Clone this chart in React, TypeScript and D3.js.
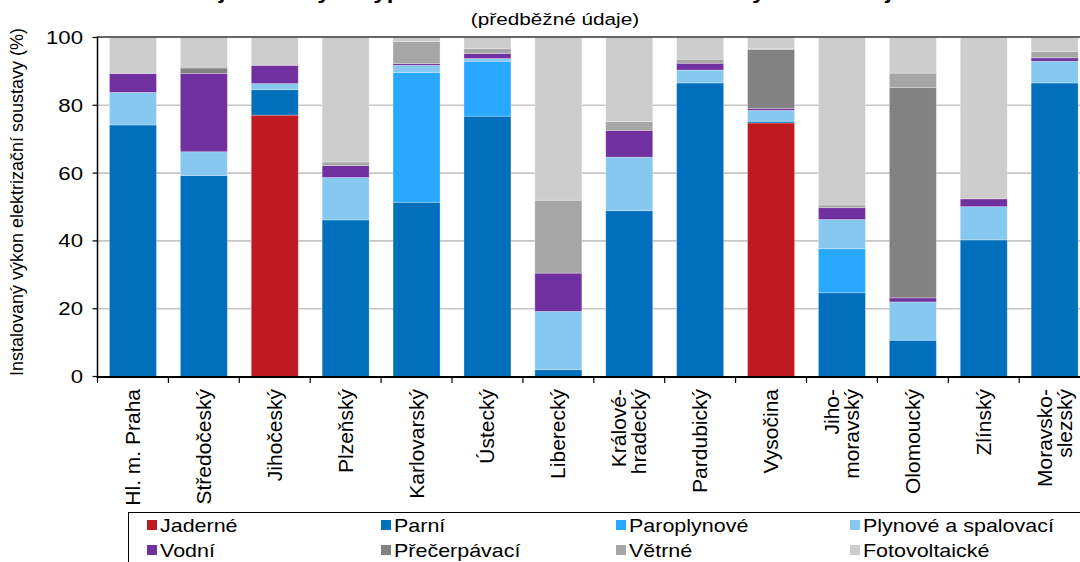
import React from "react";
import * as d3 from "d3";

const regions: string[][] = [
  ["Hl. m. Praha"],
  ["Středočeský"],
  ["Jihočeský"],
  ["Plzeňský"],
  ["Karlovarský"],
  ["Ústecký"],
  ["Liberecký"],
  ["Králové-", "hradecký"],
  ["Pardubický"],
  ["Vysočina"],
  ["Jiho-", "moravský"],
  ["Olomoucký"],
  ["Zlínský"],
  ["Moravsko-", "slezský"],
];

const seriesNames = [
  "Jaderné",
  "Parní",
  "Paroplynové",
  "Plynové a spalovací",
  "Vodní",
  "Přečerpávací",
  "Větrné",
  "Fotovoltaické",
];

const seriesColors = [
  "#BE1A20",
  "#0070BD",
  "#29A8FF",
  "#86C8F0",
  "#7030A0",
  "#828282",
  "#A6A6A6",
  "#CDCDCD",
];

// values per region (%), order follows seriesNames
const jaderne = [0, 0, 77.1, 0, 0, 0, 0, 0, 0, 74.8, 0, 0, 0, 0];
const parni = [74.2, 59.3, 7.5, 46.2, 51.4, 76.8, 2.0, 48.9, 86.6, 0.5, 24.7, 10.7, 40.3, 86.6];
const paroplynove = [0, 0, 0, 0, 38.3, 16.2, 0, 0, 0, 0, 13.0, 0, 0, 0];
const plynove = [9.6, 7.0, 1.8, 12.5, 2.1, 0.8, 17.2, 15.8, 3.8, 3.2, 8.6, 11.3, 9.8, 6.4];
const vodni = [5.6, 23.1, 5.4, 3.5, 0.5, 1.5, 11.3, 7.9, 2.0, 0.6, 3.5, 1.2, 2.3, 1.0];
const precerpavaci = [0, 1.6, 0, 0, 0, 0, 0, 0, 0, 17.4, 0, 62.1, 0, 0];
const vetrne = [0, 0.3, 0, 1.1, 6.5, 1.5, 21.5, 2.6, 1.2, 0.3, 0.8, 4.2, 0, 1.9];
const fotovoltaicke = [10.6, 8.7, 8.2, 36.7, 1.2, 3.2, 48.0, 24.8, 6.4, 3.3, 49.4, 10.5, 47.6, 4.1];

const yTicks = [0, 20, 40, 60, 80, 100];

const titleText = "Podíl jednotlivých typů elektráren na instalovaném výkonu v krajích";
const subtitleText = "(předběžné údaje)";
const yTitle = "Instalovaný výkon elektrizační soustavy (%)";

const W = 1080;
const H = 562;
const FONT = "'Liberation Sans', Arial, Helvetica, sans-serif";

function HText(props: {
  x: number;
  y: number;
  sx: number;
  size: number;
  anchor?: string;
  weight?: string;
  children: React.ReactNode;
}) {
  return (
    <g transform={`translate(${props.x},${props.y}) scale(${props.sx},1)`}>
      <text
        x={0}
        y={0}
        fontSize={props.size}
        textAnchor={props.anchor || "start"}
        fontWeight={props.weight || "normal"}
        fill="#000"
      >
        {props.children}
      </text>
    </g>
  );
}

export default function App() {
  const seriesValues = [jaderne, parni, paroplynove, plynove, vodni, precerpavaci, vetrne, fotovoltaicke];
  const keys = seriesNames;
  const rows = regions.map((r, i) => {
    const o: any = { region: r.join("") };
    keys.forEach((k, j) => (o[k] = seriesValues[j][i]));
    return o;
  });
  const stacked = d3.stack<any>().keys(keys)(rows);

  const left = 97.5;
  const step = 70.9;
  const x = d3
    .scaleBand<string>()
    .domain(rows.map((r) => r.region))
    .range([left, left + step * regions.length])
    .paddingInner(0.337)
    .paddingOuter(0.337 / 2);
  const y = d3.scaleLinear().domain([0, 100]).range([376.5, 37.5]);

  const bandStarts = rows.map((r) => (x(r.region) as number) - x.step() * 0.337 / 2);

  const legendCols = [147, 381, 616, 850];
  const legendRows = [525, 550];

  return (
    <svg width={W} height={H} style={{ display: "block", position: "absolute", left: 0, top: 0 }} fontFamily={FONT}>
      <rect x={0} y={0} width={W} height={H} fill="#fff" />
      {/* title (cut off at top as in reference) */}
      <HText x={540} y={-1.5} sx={1.2} size={20} anchor="middle" weight="bold">
        {titleText}
      </HText>
      <HText x={555} y={25} sx={1.22} size={17} anchor="middle">
        {subtitleText}
      </HText>

      {/* gridlines */}
      {yTicks
        .filter((t) => t > 0 && t < 100)
        .map((t) => (
          <line key={t} x1={left} x2={W} y1={y(t)} y2={y(t)} stroke="#c6c6c6" strokeWidth={1.6} />
        ))}

      {/* bars */}
      {stacked.map((s, si) => (
        <g key={s.key} fill={seriesColors[si]}>
          {s.map((d, i) => {
            const h = y(d[0]) - y(d[1]);
            if (h <= 0) return null;
            return (
              <rect
                key={i}
                x={x(rows[i].region)}
                y={y(d[1])}
                width={x.bandwidth()}
                height={h}
                stroke="rgba(255,255,255,0.35)"
                strokeWidth={0.8}
              />
            );
          })}
        </g>
      ))}

      {/* top frame line */}
      <line x1={left} x2={W} y1={37} y2={37} stroke="#333" strokeWidth={1.6} />

      {/* y axis */}
      <line x1={left} x2={left} y1={36.5} y2={377} stroke="#000" strokeWidth={1.5} />
      {yTicks.map((t) => (
        <g key={t}>
          <line x1={left - 5} x2={left} y1={y(t)} y2={y(t)} stroke="#000" strokeWidth={1.2} />
          <HText x={83} y={y(t) + 6.5} sx={1.2} size={18.5} anchor="end">
            {t}
          </HText>
        </g>
      ))}
      <text
        transform={`translate(23, ${(y(0) + y(100)) / 2 - 5}) rotate(-90)`}
        textAnchor="middle"
        fontSize={18}
        fill="#000"
      >
        {yTitle}
      </text>

      {/* x axis */}
      <line x1={left - 1} x2={W} y1={377} y2={377} stroke="#000" strokeWidth={2} />
      {bandStarts.map((bx, i) => (
        <line key={i} x1={bx} x2={bx} y1={377} y2={383} stroke="#000" strokeWidth={1.2} />
      ))}
      {regions.map((lines, i) => {
        const cx = (x(rows[i].region) as number) + x.bandwidth() / 2;
        const lh = 20;
        return lines.map((ln, li) => {
          const off = (li - (lines.length - 1) / 2) * lh;
          return (
            <text
              key={i + "-" + li}
              transform={`translate(${cx + off + 7}, 389) rotate(-90)`}
              textAnchor="end"
              fontSize={21}
              fill="#000"
            >
              {ln}
            </text>
          );
        });
      })}

      {/* legend */}
      <rect x={128.5} y={512.5} width={1000} height={70} fill="#fff" stroke="#000" strokeWidth={1} />
      {seriesNames.map((n, i) => {
        const cx = legendCols[i % 4];
        const cy = legendRows[Math.floor(i / 4)];
        return (
          <g key={n}>
            <rect x={cx} y={cy - 5} width={10} height={10} fill={seriesColors[i]} />
            <HText x={cx + 13} y={cy + 6.5} sx={1.13} size={19}>
              {n}
            </HText>
          </g>
        );
      })}
    </svg>
  );
}
